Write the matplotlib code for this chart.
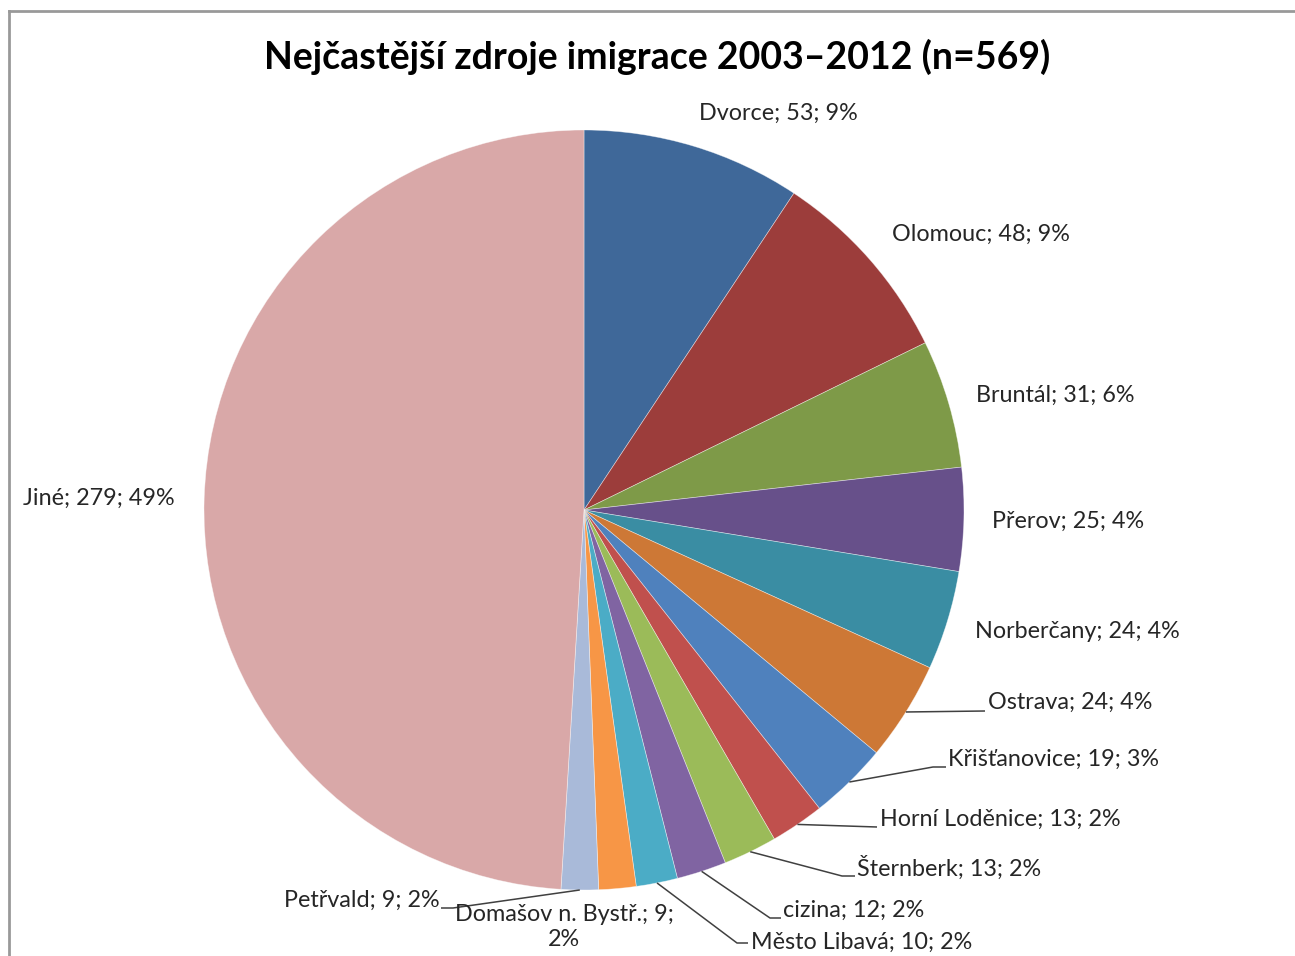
import numpy as np
import matplotlib
matplotlib.use("Agg")
import matplotlib.pyplot as plt
from matplotlib.lines import Line2D

# ---- data ----
categories = ["Dvorce", "Olomouc", "Bruntál", "Přerov", "Norberčany", "Ostrava",
              "Křišťanovice", "Horní Loděnice", "Šternberk", "cizina",
              "Město Libavá", "Domašov n. Bystř.", "Petřvald", "Jiné"]
values = [53, 48, 31, 25, 24, 24, 19, 13, 13, 12, 10, 9, 9, 279]
percents = [9, 9, 6, 4, 4, 4, 3, 2, 2, 2, 2, 2, 2, 49]
title = "Nejčastější zdroje imigrace 2003–2012 (n=569)"

colors = ["#3F6899", "#9C3D3B", "#7E9A48", "#67508A", "#3A8DA3", "#CD7836",
          "#4F81BD", "#C0504D", "#9BBB59", "#8064A2", "#4BACC6", "#F79646",
          "#A9BAD9", "#D9A8A8"]

W, H = 1295, 956
plt.rcParams['font.family'] = ['Lato', 'DejaVu Sans']
fig = plt.figure(figsize=(W / 100, H / 100), dpi=100)
ax = fig.add_axes([0, 0, 1, 1])


def P(px, py):
    return (px, H - py)


cx, cy = P(584, 510)
R = 380
wedges, _ = ax.pie(values, colors=colors, startangle=90, counterclock=False,
                   center=(cx, cy), radius=R, frame=True,
                   wedgeprops=dict(edgecolor=(1, 1, 1, 0.5), linewidth=0.5))
ax.set_xlim(0, W)
ax.set_ylim(0, H)
ax.set_aspect('equal')
ax.axis('off')

TXT = "#262626"
FS = 16.8

# layout: label anchor (px, py), alignment, leader knee points (pixel coords) or None
layout = {
    "Dvorce": ((699, 113), 'left', None),
    "Olomouc": ((892, 234), 'left', None),
    "Bruntál": ((976, 395), 'left', None),
    "Přerov": ((992, 521), 'left', None),
    "Norberčany": ((975, 632), 'left', None),
    "Ostrava": ((988, 702), 'left', [(985, 711)]),
    "Křišťanovice": ((948, 759), 'left', [(933, 767), (946, 767)]),
    "Horní Loděnice": ((880, 819), 'left', [(877, 827)]),
    "Šternberk": ((857, 868), 'left', [(842, 876), (855, 876)]),
    "cizina": ((783, 910), 'left', [(770, 918), (781, 918)]),
    "Město Libavá": ((751, 942), 'left', [(737, 943), (748, 943)]),
    "Domašov n. Bystř.": ((564, 927), 'center', None),
    "Petřvald": ((440, 900), 'right', [(453, 908), (441, 908)]),
    "Jiné": ((23, 498), 'left', None),
}

for w, cat, v, pct in zip(wedges, categories, values, percents):
    if cat == "Domašov n. Bystř.":
        label = f"{cat}; {v};\n{pct}%"
    else:
        label = f"{cat}; {v}; {pct}%"
    (lx, ly), ha, knees = layout[cat]
    ax.text(*P(lx, ly), label, ha=ha, va='center', fontsize=FS, color=TXT,
            linespacing=1.2, multialignment='center')
    if knees:
        mid = np.deg2rad((w.theta1 + w.theta2) / 2)
        ex = w.center[0] + w.r * np.cos(mid)
        ey = w.center[1] + w.r * np.sin(mid)
        xs = [ex] + [k[0] for k in knees]
        ys = [ey] + [H - k[1] for k in knees]
        ax.plot(xs, ys, color="#404040", lw=1.1, solid_capstyle='butt')

ax.text(*P(657, 57), title, ha='center', va='center', fontsize=27,
        fontweight='bold', color='black')

# chart border (gray frame, partially cropped)
fig.add_artist(Line2D([9 / W, 9 / W], [0, 1 - 11 / H], transform=fig.transFigure,
                      color="#999999", lw=2))
fig.add_artist(Line2D([9 / W, 1], [1 - 11 / H, 1 - 11 / H], transform=fig.transFigure,
                      color="#999999", lw=2))

fig.savefig("out.png", dpi=100, facecolor='white')
